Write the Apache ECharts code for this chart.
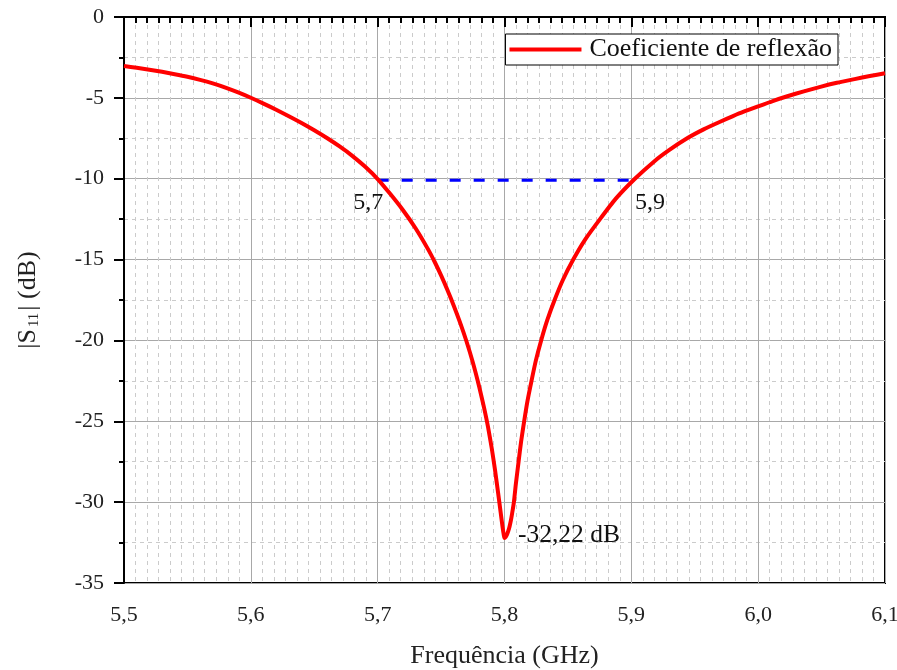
<!DOCTYPE html>
<html><head><meta charset="utf-8">
<script src="https://cdn.jsdelivr.net/npm/echarts@6/dist/echarts.min.js"></script>
<style>html,body{margin:0;padding:0;background:#fff}#c{width:897px;height:670px}</style>
</head><body><div id="c"></div>
<script>
var freq = [5.50,5.51,5.52,5.53,5.54,5.55,5.56,5.57,5.58,5.59,5.60,5.61,5.62,5.63,5.64,5.65,5.66,5.67,5.68,5.69,5.70,
  5.71,5.72,5.73,5.74,5.745,5.75,5.755,5.76,5.765,5.77,5.775,5.78,5.784,5.787,5.79,5.7925,5.795,5.797,5.7985,5.7995,5.80,
  5.801,5.802,5.803,5.804,5.805,5.806,5.8074,5.8090,5.8111,5.8131,5.8155,5.8181,5.8213,5.8247,5.8289,5.8337,5.8395,5.8461,5.8542,5.8637,5.8753,5.8876,5.9026,
  5.918,5.93,5.944,5.957,5.97,5.985,6.00,6.012,6.023,6.036,6.049,6.062,6.076,6.088,6.10];
var s11 = [-3.03,-3.14,-3.26,-3.39,-3.535,-3.695,-3.885,-4.105,-4.365,-4.665,-4.995,-5.355,-5.735,-6.135,-6.555,-7.005,-7.485,-8.005,-8.585,-9.25,-10.02,
  -10.95,-11.95,-13.08,-14.4,-15.15,-15.98,-16.88,-17.85,-18.9,-20.05,-21.35,-22.85,-24.2,-25.35,-26.7,-28.0,-29.45,-30.65,-31.55,-32.05,-32.22,
  -32.15,-32.0,-31.78,-31.5,-31.15,-30.7,-30.0,-28.85,-27.5,-26.25,-25.0,-23.75,-22.5,-21.25,-20.0,-18.75,-17.5,-16.25,-15.0,-13.75,-12.5,-11.25,-10.02,
  -8.93,-8.22,-7.5,-6.95,-6.48,-5.96,-5.52,-5.18,-4.9,-4.6,-4.32,-4.07,-3.84,-3.65,-3.48];
var bandX = [5.70, 5.9024];
var bandY = -10.1;
var notes = [
  {text:'5,7', x:5.70, y:-10.1},
  {text:'5,9', x:5.9024, y:-10.1},
  {text:'-32,22 dB', x:5.80, y:-32.22}
];
var legendName = 'Coeficiente de reflexão';

var font = 'Liberation Serif';
var chart = echarts.init(document.getElementById('c'), null, {renderer:'canvas'});
var fmtX = function(v){ return (Math.round(v*10)/10).toFixed(1).replace('.', ','); };
var noteLabel = {
  '5,7': {fontSize:24, position:[-24,11]},
  '5,9': {fontSize:24, position:[1,11]},
  '-32,22 dB': {fontSize:25.5, position:[14,-15]}
};
chart.setOption({
  animation:false,
  backgroundColor:'#fff',
  textStyle:{fontFamily:font},
  grid:{left:124, right:12, top:17, bottom:87, outerBoundsMode:'none', containLabel:false,
    show:true, borderColor:'#000', borderWidth:2, backgroundColor:'transparent'},
  legend:{
    data:[{name:legendName, icon:'rect'}], right:59, top:34, orient:'horizontal',
    itemWidth:72, itemHeight:4, itemGap:0,
    borderColor:'#000', borderWidth:1, borderRadius:0, padding:[2,6,2,4],
    backgroundColor:'#fff',
    textStyle:{fontFamily:font, fontSize:26, lineHeight:27, color:'#111', padding:[0,0,0,3]}
  },
  xAxis:{
    type:'value', min:5.5, max:6.1, interval:0.1,
    name:'Frequência (GHz)', nameLocation:'middle', nameGap:60,
    nameTextStyle:{fontFamily:font, fontSize:26, color:'#222'},
    axisLine:{lineStyle:{color:'#000', width:2}},
    axisTick:{length:10, lineStyle:{color:'#000', width:2}},
    minorTick:{show:true, splitNumber:11, length:6, lineStyle:{color:'#000', width:2}},
    axisLabel:{fontFamily:font, fontSize:22, color:'#222', margin:21, formatter:fmtX},
    splitLine:{show:true, lineStyle:{color:'#a8a8a8', width:1}},
    minorSplitLine:{show:true, lineStyle:{color:'#cbcbcb', width:1, type:[4,4]}}
  },
  yAxis:{
    type:'value', min:-35, max:0, interval:5,
    name:'|S{sub|11}| (dB)', nameLocation:'middle', nameGap:82, nameRotate:90,
    nameTextStyle:{fontFamily:font, fontSize:26, color:'#222',
      rich:{sub:{fontFamily:font, fontSize:15, color:'#222', padding:[12,2,0,2]}}},
    axisLine:{lineStyle:{color:'#000', width:2}},
    axisTick:{length:10, lineStyle:{color:'#000', width:2}},
    minorTick:{show:true, splitNumber:2, length:5, lineStyle:{color:'#000', width:2}},
    axisLabel:{fontFamily:font, fontSize:22, color:'#222', margin:20, formatter:function(v){return String(v);}},
    splitLine:{show:true, lineStyle:{color:'#a8a8a8', width:1}},
    minorSplitLine:{show:true, lineStyle:{color:'#cbcbcb', width:1, type:[4,4]}}
  },
  series:[
    {
      name:legendName, type:'line', symbol:'none', smooth:0.2,
      data:freq.map(function(f,i){return [f, s11[i]];}),
      lineStyle:{color:'#ff0000', width:4, join:'round'}, itemStyle:{color:'#ff0000'},
      z:5,
      markPoint:{
        symbol:'circle', symbolSize:1, itemStyle:{color:'transparent'},
        data:notes.map(function(n){
          var c = noteLabel[n.text];
          return {coord:[n.x, n.y], value:n.text,
            label:{show:true, formatter:n.text, fontFamily:font, fontSize:c.fontSize, color:'#111', position:c.position}};
        })
      }
    },
    {
      name:'band', type:'line', symbol:'none',
      data:bandX.map(function(x){return [x, bandY];}),
      lineStyle:{color:'#0000ff', width:3, type:[11,13]}, z:4
    }
  ]
});
</script></body></html>
